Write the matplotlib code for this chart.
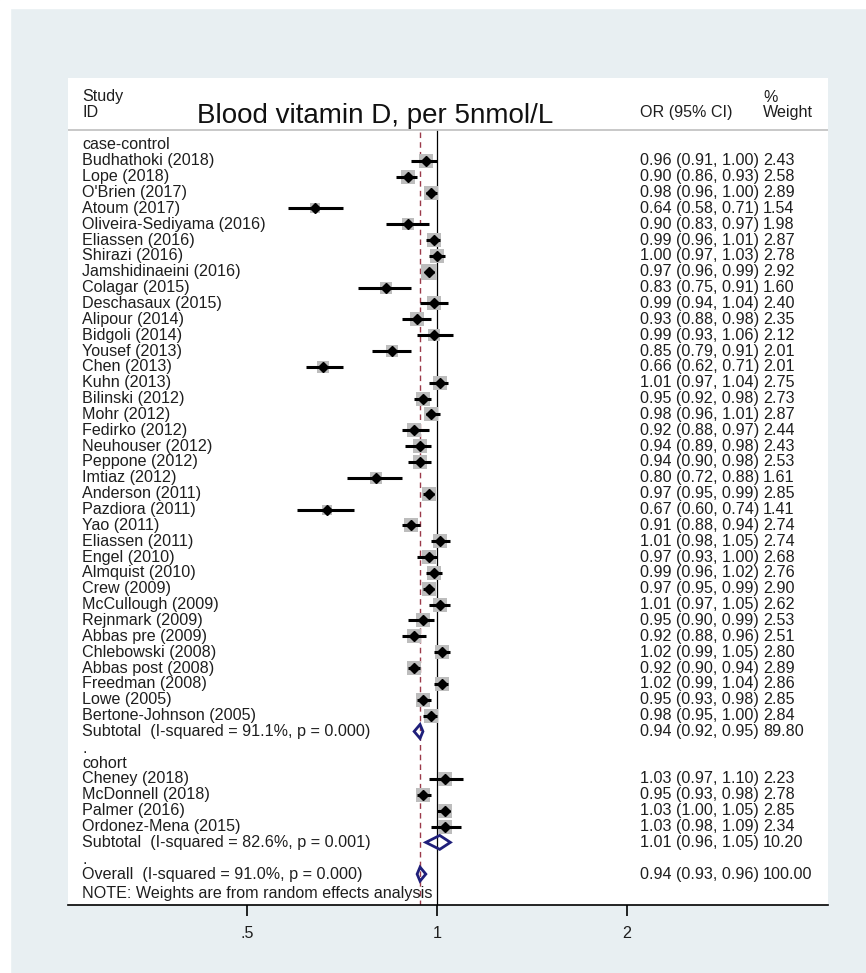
import numpy as np
import matplotlib.pyplot as plt
import matplotlib.transforms as mtrans
from matplotlib.patches import Polygon, Rectangle

plt.rcParams['font.family'] = ['Liberation Sans', 'DejaVu Sans']

# case-control studies
cc_labels = ["Budhathoki (2018)", "Lope (2018)", "O'Brien (2017)", "Atoum (2017)",
             "Oliveira-Sediyama (2016)", "Eliassen (2016)", "Shirazi (2016)",
             "Jamshidinaeini (2016)", "Colagar (2015)", "Deschasaux (2015)",
             "Alipour (2014)", "Bidgoli (2014)", "Yousef (2013)", "Chen (2013)",
             "Kuhn (2013)", "Bilinski (2012)", "Mohr (2012)", "Fedirko (2012)",
             "Neuhouser (2012)", "Peppone (2012)", "Imtiaz (2012)", "Anderson (2011)",
             "Pazdiora (2011)", "Yao (2011)", "Eliassen (2011)", "Engel (2010)",
             "Almquist (2010)", "Crew (2009)", "McCullough (2009)", "Rejnmark (2009)",
             "Abbas pre (2009)", "Chlebowski (2008)", "Abbas post (2008)",
             "Freedman (2008)", "Lowe (2005)", "Bertone-Johnson (2005)"]
cc_or = [0.96, 0.90, 0.98, 0.64, 0.90, 0.99, 1.00, 0.97, 0.83, 0.99, 0.93, 0.99,
         0.85, 0.66, 1.01, 0.95, 0.98, 0.92, 0.94, 0.94, 0.80, 0.97, 0.67, 0.91,
         1.01, 0.97, 0.99, 0.97, 1.01, 0.95, 0.92, 1.02, 0.92, 1.02, 0.95, 0.98]
cc_lo = [0.91, 0.86, 0.96, 0.58, 0.83, 0.96, 0.97, 0.96, 0.75, 0.94, 0.88, 0.93,
         0.79, 0.62, 0.97, 0.92, 0.96, 0.88, 0.89, 0.90, 0.72, 0.95, 0.60, 0.88,
         0.98, 0.93, 0.96, 0.95, 0.97, 0.90, 0.88, 0.99, 0.90, 0.99, 0.93, 0.95]
cc_hi = [1.00, 0.93, 1.00, 0.71, 0.97, 1.01, 1.03, 0.99, 0.91, 1.04, 0.98, 1.06,
         0.91, 0.71, 1.04, 0.98, 1.01, 0.97, 0.98, 0.98, 0.88, 0.99, 0.74, 0.94,
         1.05, 1.00, 1.02, 0.99, 1.05, 0.99, 0.96, 1.05, 0.94, 1.04, 0.98, 1.00]
cc_wt = [2.43, 2.58, 2.89, 1.54, 1.98, 2.87, 2.78, 2.92, 1.60, 2.40, 2.35, 2.12,
         2.01, 2.01, 2.75, 2.73, 2.87, 2.44, 2.43, 2.53, 1.61, 2.85, 1.41, 2.74,
         2.74, 2.68, 2.76, 2.90, 2.62, 2.53, 2.51, 2.80, 2.89, 2.86, 2.85, 2.84]

# cohort studies
co_labels = ["Cheney (2018)", "McDonnell (2018)", "Palmer (2016)", "Ordonez-Mena (2015)"]
co_or = [1.03, 0.95, 1.03, 1.03]
co_lo = [0.97, 0.93, 1.00, 0.98]
co_hi = [1.10, 0.98, 1.05, 1.09]
co_wt = [2.23, 2.78, 2.85, 2.34]

# pooled estimates: case-control subtotal, cohort subtotal, overall
pool_labels = ["Subtotal  (I-squared = 91.1%, p = 0.000)",
               "Subtotal  (I-squared = 82.6%, p = 0.001)",
               "Overall  (I-squared = 91.0%, p = 0.000)"]
pool_or = [0.94, 1.01, 0.94]
pool_lo = [0.92, 0.96, 0.93]
pool_hi = [0.95, 1.05, 0.96]
pool_wt = [89.80, 10.20, 100.00]

txt = '#1e1e1e'
fs = 11.6

fig = plt.figure(figsize=(8.66, 9.73), dpi=100, facecolor='#e8eff2')
fig.add_artist(Rectangle((0, 1 - 8/973), 1, 8/973, transform=fig.transFigure,
                         color='white', zorder=-5))
fig.add_artist(Rectangle((0, 0), 10/866, 1, transform=fig.transFigure,
                         color='white', zorder=-5))

ax = fig.add_axes([68/866, 1 - 905/973, 760/866, 827/973])
ax.set_facecolor('white')
ax.set_xscale('log')
ax.set_xlim(2**(-369/190), 2**(391/190))
ax.set_ylim(47.95, -4.227)
for s in ['top', 'right', 'left']:
    ax.spines[s].set_visible(False)
ax.spines['bottom'].set_linewidth(1.2)
ax.set_yticks([])
ax.set_xticks([0.5, 1, 2])
ax.set_xticklabels(['.5', '1', '2'], fontsize=fs, color=txt)
ax.xaxis.set_minor_locator(plt.NullLocator())
ax.tick_params(axis='x', length=8, width=1.2, pad=7, direction='out')

tr = mtrans.blended_transform_factory(ax.transAxes, ax.transData)
xl, xor, xw = 14/760, 572/760, 695/760

# header
ax.text(xl, -3.03, 'Study', transform=tr, fontsize=fs, color=txt, va='center')
ax.text(xl, -2.08, 'ID', transform=tr, fontsize=fs, color=txt, va='center')
ax.text(129/760, -1.85, 'Blood vitamin D, per 5nmol/L', transform=tr, fontsize=20,
        color='#111111', va='center')
ax.text(xor, -2.05, 'OR (95% CI)', transform=tr, fontsize=fs, color=txt, va='center')
ax.text(xw, -3.0, '%', transform=tr, fontsize=fs, color=txt, va='center')
ax.text(xw, -2.05, 'Weight', transform=tr, fontsize=fs, color=txt, va='center')
ax.axhline(-0.946, color='#c4c4c4', lw=1.3)

# reference lines
ax.plot([1, 1], [-0.946, 47.95], color='black', lw=0.9, zorder=1)
ax.plot([pool_or[2]] * 2, [-0.85, 47.95], color='#9b3a4a', lw=1, dashes=(4, 3), zorder=1)


def study_rows(labels, ors, los, his, wts, y0):
    for i in range(len(labels)):
        y = y0 + i
        ax.scatter(ors[i], y, s=40 * wts[i], marker='s', color='#bdbdbd', lw=0, zorder=2)
        ax.plot([los[i], his[i]], [y, y], color='black', lw=2.2, solid_capstyle='butt', zorder=3)
        ax.plot(ors[i], y, marker='D', ms=4.8, color='black', zorder=4)
        ax.text(xl, y, labels[i], transform=tr, fontsize=fs, color=txt, va='center')
        ax.text(xor, y, '%.2f (%.2f, %.2f)' % (ors[i], los[i], his[i]), transform=tr,
                fontsize=fs, color=txt, va='center')
        ax.text(xw, y, '%.2f' % wts[i], transform=tr, fontsize=fs, color=txt, va='center')


def pooled_row(k, y):
    h = 0.44
    d = Polygon([(pool_lo[k], y), (pool_or[k], y - h), (pool_hi[k], y), (pool_or[k], y + h)],
                closed=True, fill=False, edgecolor='#1f1f7a', lw=2, zorder=5)
    ax.add_patch(d)
    ax.text(xl, y, pool_labels[k], transform=tr, fontsize=fs, color=txt, va='center')
    ax.text(xor, y, '%.2f (%.2f, %.2f)' % (pool_or[k], pool_lo[k], pool_hi[k]), transform=tr,
            fontsize=fs, color=txt, va='center')
    ax.text(xw, y, '%.2f' % pool_wt[k], transform=tr, fontsize=fs, color=txt, va='center')


ax.text(xl, 0, 'case-control', transform=tr, fontsize=fs, color=txt, va='center')
study_rows(cc_labels, cc_or, cc_lo, cc_hi, cc_wt, 1)
pooled_row(0, 37)
ax.text(xl, 38.05, '.', transform=tr, fontsize=fs, color=txt, va='center')
ax.text(xl, 39, 'cohort', transform=tr, fontsize=fs, color=txt, va='center')
study_rows(co_labels, co_or, co_lo, co_hi, co_wt, 40)
pooled_row(1, 44)
ax.text(xl, 45.05, '.', transform=tr, fontsize=fs, color=txt, va='center')
pooled_row(2, 46)
ax.text(xl, 47.2, 'NOTE: Weights are from random effects analysis', transform=tr,
        fontsize=fs, color=txt, va='center')

plt.savefig('out.png', dpi=100, facecolor=fig.get_facecolor())
